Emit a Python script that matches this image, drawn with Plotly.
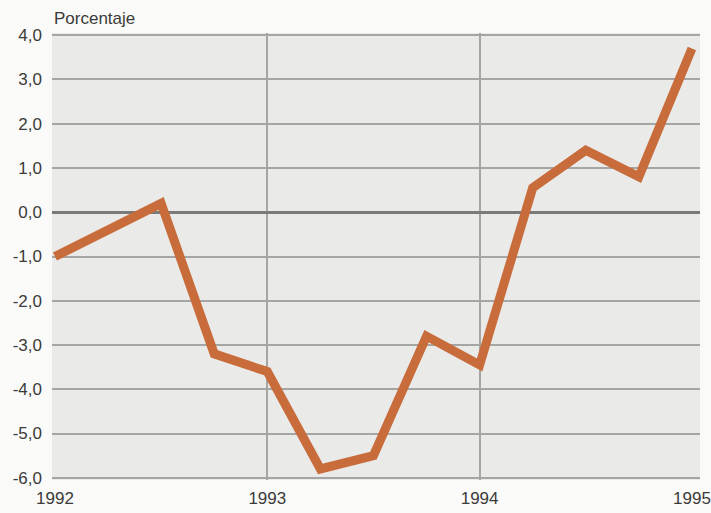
import plotly.graph_objects as go

# Quarterly percentage change, 1992 - 1995
quarters = [1992.0, 1992.25, 1992.5, 1992.75, 1993.0, 1993.25, 1993.5,
            1993.75, 1994.0, 1994.25, 1994.5, 1994.75, 1995.0]
values = [-1.0, -0.4, 0.2, -3.2, -3.6, -5.8, -5.5, -2.8, -3.45, 0.55, 1.4, 0.8, 3.7]

year_ticks = [1992, 1993, 1994, 1995]
year_labels = ["1992", "1993", "1994", "1995"]
y_ticks = [4, 3, 2, 1, 0, -1, -2, -3, -4, -5, -6]
y_labels = ["4,0", "3,0", "2,0", "1,0", "0,0", "-1,0", "-2,0", "-3,0", "-4,0", "-5,0", "-6,0"]

font_family = "Liberation Sans, Arial, sans-serif"
text_color = "#3A3A3A"

fig = go.Figure()
fig.add_trace(go.Scatter(
    x=quarters, y=values, mode="lines",
    line=dict(color="#C86C3B", width=9),
    hoverinfo="skip",
))

fig.update_layout(
    width=711, height=513,
    margin=dict(l=52, r=11, t=33, b=33),
    paper_bgcolor="#FAFAF8",
    plot_bgcolor="#EAEAE8",
    showlegend=False,
    font=dict(family=font_family, size=17, color=text_color),
    annotations=[dict(
        text="Porcentaje", xref="paper", yref="paper", x=0, y=1,
        xanchor="left", yanchor="bottom", yshift=3, showarrow=False,
        font=dict(family=font_family, size=17, color=text_color),
    )],
)

fig.update_xaxes(
    range=[1991.986, 1995.038], automargin=False,
    tickmode="array", tickvals=year_ticks, ticktext=year_labels,
    showgrid=False, zeroline=False, showline=False, ticks="",
    ticklabelstandoff=6, ticklabeloverflow="allow",
    minor=dict(tickmode="array", tickvals=[1993, 1994], showgrid=True,
               gridcolor="#A5A5A3", gridwidth=1.5, ticks=""),
    tickfont=dict(size=17, color=text_color),
)

fig.update_yaxes(
    range=[-6.05, 4.05], automargin=False,
    tickmode="array", tickvals=y_ticks, ticktext=y_labels,
    showgrid=True, gridcolor="#A5A5A3", gridwidth=1.5,
    zeroline=True, zerolinecolor="#7A7A78", zerolinewidth=3,
    showline=False, ticks="", ticklabelstandoff=9, ticklabeloverflow="allow",
    tickfont=dict(size=17, color=text_color),
)

fig.write_html("out.html")
